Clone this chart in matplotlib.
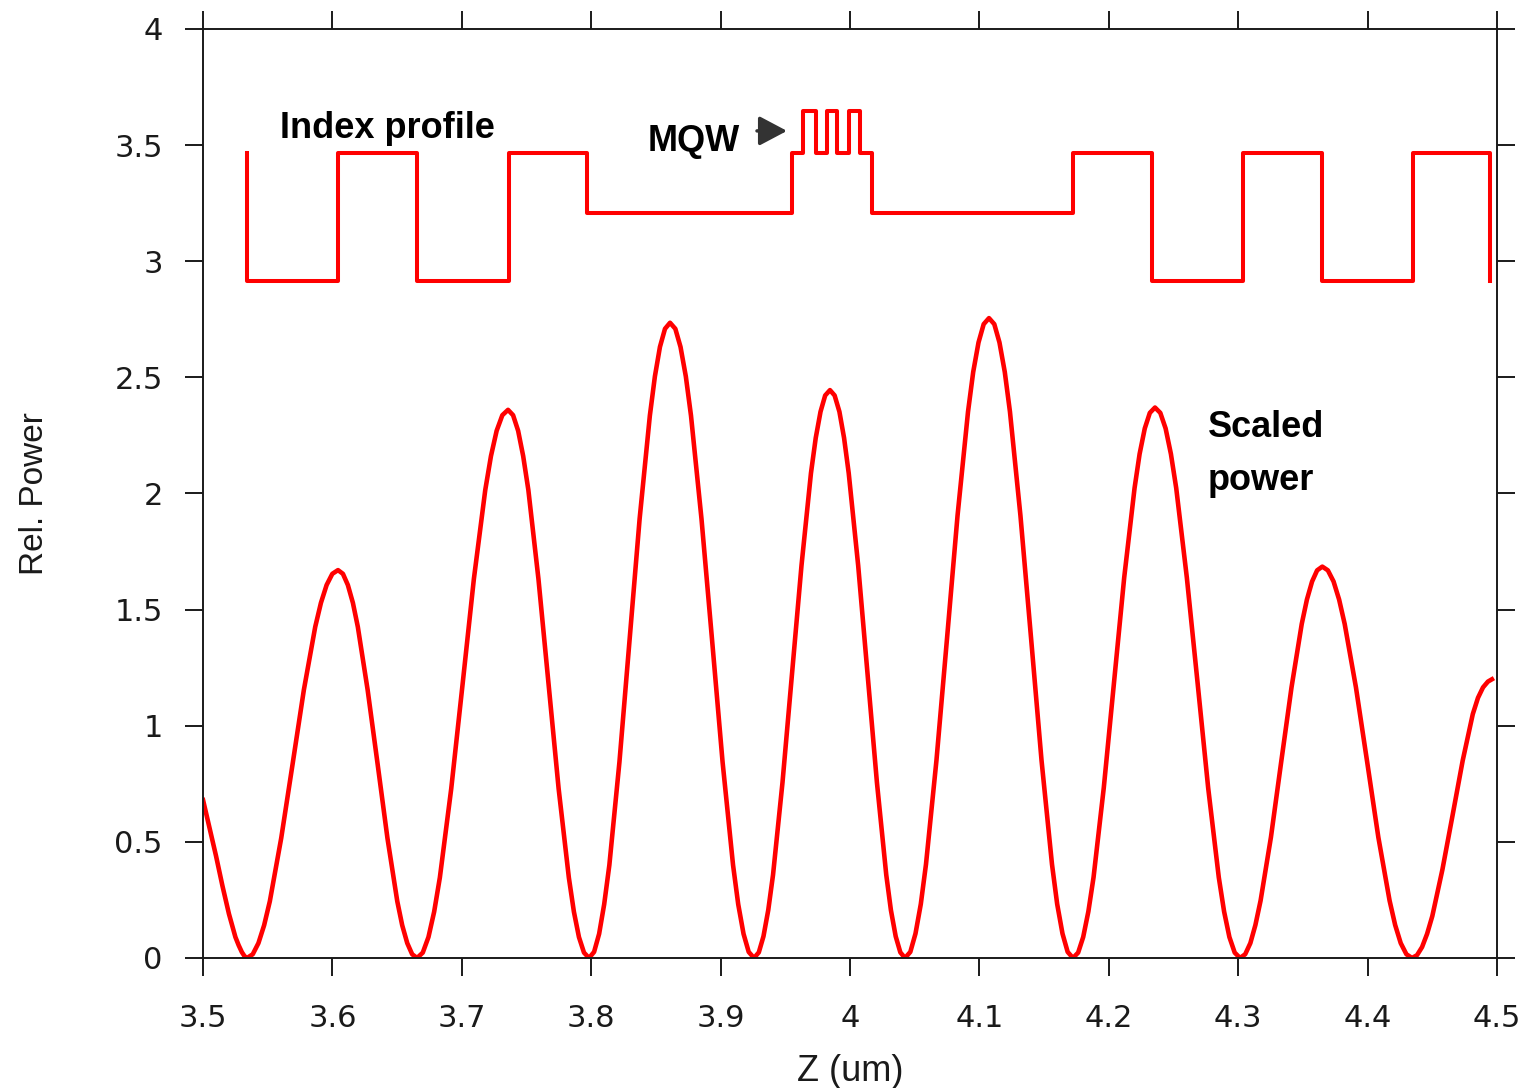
"""Standing-wave power in the cavity together with the refractive-index profile.

The index profile is drawn as a step trace (DBR pairs, SCH spacers and the
three MQW wells in the middle); the scaled optical power sits under it on the
same axis.
"""
import matplotlib
matplotlib.use("Agg")
import matplotlib.pyplot as plt

plt.rcParams["font.family"] = ["Liberation Sans", "DejaVu Sans"]

RED = "#ff0000"
INK = "#1a1a1a"

# refractive index levels
N_HIGH = 3.467
N_LOW = 2.915
N_SCH = 3.209
N_QW = 3.648

# index profile: layer boundaries (um) and the index from each boundary on
INDEX_Z = [3.534, 3.534, 3.604, 3.665, 3.7365, 3.797, 3.955, 3.9637, 3.9737,
           3.9822, 3.9900, 3.9992, 4.0077, 4.017, 4.1723, 4.2334, 4.3037,
           4.3648, 4.4351, 4.4946]
INDEX_N = [N_HIGH, N_LOW, N_HIGH, N_LOW, N_HIGH, N_SCH, N_HIGH, N_QW, N_HIGH,
           N_QW, N_HIGH, N_QW, N_HIGH, N_SCH, N_HIGH, N_LOW, N_HIGH,
           N_LOW, N_HIGH, N_LOW]

# scaled power along z, one row per half-period of the standing wave
POWER_Z = [
    3.5000, 3.5050, 3.5100, 3.5150, 3.5200, 3.5250, 3.5275, 3.5300, 3.5320,
    3.5340, 3.5384, 3.5428, 3.5472, 3.5516, 3.5604, 3.5692, 3.5779, 3.5867, 3.5911, 3.5955, 3.5999,
    3.6043, 3.6081, 3.6119, 3.6158, 3.6196, 3.6272, 3.6349, 3.6425, 3.6501, 3.6539, 3.6578, 3.6616,
    3.6654, 3.6698, 3.6742, 3.6786, 3.6830, 3.6918, 3.7006, 3.7093, 3.7181, 3.7225, 3.7269, 3.7313,
    3.7357, 3.7396, 3.7435, 3.7474, 3.7514, 3.7592, 3.7670, 3.7748, 3.7827, 3.7866, 3.7905, 3.7944,
    3.7983, 3.8022, 3.8061, 3.8100, 3.8140, 3.8218, 3.8296, 3.8374, 3.8453, 3.8492, 3.8531, 3.8570,
    3.8609, 3.8650, 3.8690, 3.8731, 3.8771, 3.8852, 3.8934, 3.9015, 3.9096, 3.9136, 3.9177, 3.9217,
    3.9258, 3.9295, 3.9331, 3.9368, 3.9405, 3.9478, 3.9552, 3.9625, 3.9698, 3.9735, 3.9772, 3.9808,
    3.9845, 3.9881, 3.9918, 3.9954, 3.9990, 4.0063, 4.0135, 4.0208, 4.0280, 4.0316, 4.0353, 4.0389,
    4.0425, 4.0466, 4.0506, 4.0547, 4.0587, 4.0668, 4.0750, 4.0831, 4.0912, 4.0952, 4.0993, 4.1033,
    4.1074, 4.1115, 4.1155, 4.1196, 4.1236, 4.1317, 4.1399, 4.1480, 4.1561, 4.1601, 4.1642, 4.1682,
    4.1723, 4.1763, 4.1802, 4.1842, 4.1882, 4.1961, 4.2040, 4.2119, 4.2199, 4.2238, 4.2278, 4.2317,
    4.2357, 4.2398, 4.2439, 4.2480, 4.2521, 4.2603, 4.2686, 4.2768, 4.2850, 4.2891, 4.2932, 4.2973,
    4.3014, 4.3054, 4.3094, 4.3133, 4.3173, 4.3253, 4.3332, 4.3412, 4.3491, 4.3531, 4.3571, 4.3610,
    4.3650, 4.3693, 4.3737, 4.3780, 4.3823, 4.3910, 4.3997, 4.4083, 4.4170, 4.4213, 4.4256, 4.4300,
    4.4343, 4.4382, 4.4421, 4.4460, 4.4500, 4.4578, 4.4657, 4.4735, 4.4813, 4.4853, 4.4892, 4.4930,
    4.4961,
]
POWER_REL = [
    0.680, 0.560, 0.440, 0.310, 0.190, 0.090, 0.055, 0.025, 0.008,
    0.000, 0.016, 0.064, 0.141, 0.244, 0.516, 0.835, 1.154, 1.426, 1.529, 1.606, 1.654,
    1.670, 1.654, 1.606, 1.529, 1.426, 1.154, 0.835, 0.516, 0.244, 0.141, 0.064, 0.016,
    0.000, 0.023, 0.090, 0.199, 0.346, 0.729, 1.180, 1.632, 2.015, 2.161, 2.270, 2.337,
    2.360, 2.337, 2.270, 2.161, 2.015, 1.632, 1.180, 0.729, 0.346, 0.199, 0.090, 0.023,
    0.000, 0.026, 0.104, 0.231, 0.400, 0.844, 1.368, 1.891, 2.335, 2.504, 2.631, 2.709,
    2.735, 2.709, 2.631, 2.504, 2.335, 1.891, 1.368, 0.844, 0.400, 0.231, 0.104, 0.026,
    0.000, 0.024, 0.093, 0.206, 0.358, 0.755, 1.223, 1.690, 2.087, 2.239, 2.352, 2.422,
    2.445, 2.422, 2.352, 2.239, 2.087, 1.690, 1.223, 0.755, 0.358, 0.206, 0.093, 0.024,
    0.000, 0.026, 0.105, 0.232, 0.403, 0.851, 1.378, 1.905, 2.352, 2.523, 2.650, 2.729,
    2.755, 2.729, 2.650, 2.523, 2.352, 1.905, 1.378, 0.851, 0.403, 0.232, 0.105, 0.026,
    0.000, 0.023, 0.090, 0.200, 0.347, 0.732, 1.185, 1.638, 2.023, 2.170, 2.280, 2.347,
    2.370, 2.347, 2.280, 2.170, 2.023, 1.638, 1.185, 0.732, 0.347, 0.200, 0.090, 0.023,
    0.000, 0.016, 0.064, 0.142, 0.247, 0.520, 0.843, 1.165, 1.438, 1.543, 1.621, 1.669,
    1.685, 1.669, 1.621, 1.543, 1.438, 1.165, 0.843, 0.520, 0.247, 0.142, 0.064, 0.016,
    0.000, 0.012, 0.047, 0.104, 0.180, 0.380, 0.615, 0.850, 1.050, 1.120, 1.165, 1.190,
    1.200,
]

X_TICKS = [3.5, 3.6, 3.7, 3.8, 3.9, 4.0, 4.1, 4.2, 4.3, 4.4, 4.5]
X_TICK_LABELS = ["3.5", "3.6", "3.7", "3.8", "3.9", "4", "4.1", "4.2", "4.3", "4.4", "4.5"]
Y_TICKS = [0, 0.5, 1, 1.5, 2, 2.5, 3, 3.5, 4]
Y_TICK_LABELS = ["0", "0.5", "1", "1.5", "2", "2.5", "3", "3.5", "4"]


def label(ax, z, y, s):
    ax.text(z, y, s, fontweight="bold", fontsize=26, ha="left", va="baseline")


def main():
    assert len(POWER_Z) == len(POWER_REL)
    assert len(INDEX_Z) == len(INDEX_N)

    fig = plt.figure(figsize=(15.36, 10.88), dpi=100)
    ax = fig.add_axes([0.1322, 0.1195, 0.8424, 0.8539])

    ax.plot(POWER_Z, POWER_REL, color=RED, lw=3.3, solid_joinstyle="round")
    ax.step(INDEX_Z, INDEX_N, where="post", color=RED, lw=2.9)

    ax.set_xlim(3.5, 4.5)
    ax.set_ylim(0, 4)
    ax.set_xticks(X_TICKS)
    ax.set_xticklabels(X_TICK_LABELS)
    ax.set_yticks(Y_TICKS)
    ax.set_yticklabels(Y_TICK_LABELS)
    ax.tick_params(direction="out", length=13, width=1.4, top=True, right=True,
                   labelsize=22, color=INK, labelcolor=INK)
    ax.tick_params(axis="x", pad=20)
    ax.tick_params(axis="y", pad=16)
    for lab in ax.get_xticklabels() + ax.get_yticklabels():
        lab.set_family(["DejaVu Sans"])
    for sp in ax.spines.values():
        sp.set_linewidth(1.4)
        sp.set_color(INK)

    ax.set_ylabel("Rel. Power", fontsize=24, color=INK)
    ax.yaxis.set_label_coords(-0.118, 0.5)
    ax.set_xlabel("Z (um)", fontsize=26, color=INK)
    ax.xaxis.set_label_coords(0.5, -0.103)

    # annotations
    label(ax, 3.5595, 3.531, "Index profile")
    label(ax, 3.8439, 3.475, "MQW")
    ax.annotate("", xy=(3.9513, 3.561), xytext=(3.9281, 3.561),
                arrowprops=dict(arrowstyle="-|>,head_length=1.7,head_width=0.9",
                                color="#333333", lw=2.5, shrinkA=0, shrinkB=0))
    label(ax, 4.2767, 2.245, "Scaled")
    label(ax, 4.2767, 2.015, "power")

    fig.savefig("out.png", dpi=100)
    plt.close(fig)


if __name__ == "__main__":
    main()
